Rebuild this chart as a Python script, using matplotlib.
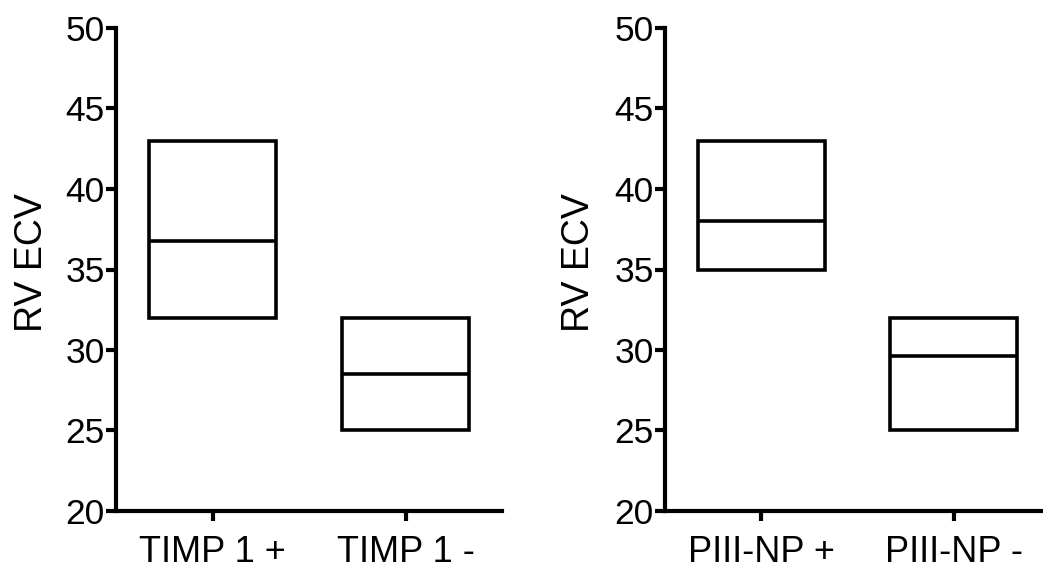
import matplotlib
matplotlib.use("Agg")
import matplotlib.pyplot as plt

plt.rcParams['font.family'] = ['Liberation Sans', 'DejaVu Sans']

# Data (floating bars: min to max with median line)
groups_left = ["TIMP 1 +", "TIMP 1 -"]
low_left = [32.0, 25.0]
high_left = [43.0, 32.0]
median_left = [36.8, 28.5]

groups_right = ["PIII-NP +", "PIII-NP -"]
low_right = [35.0, 25.0]
high_right = [43.0, 32.0]
median_right = [38.0, 29.6]

y_ticks = [20, 25, 30, 35, 40, 45, 50]
y_label = "RV ECV"

fig = plt.figure(figsize=(10.43, 5.77), dpi=100)
ax1 = fig.add_axes([116/1043, 66/577, 386/1043, 483/577])
ax2 = fig.add_axes([665/1043, 66/577, 385/1043, 483/577])

BW = 0.66

def draw(ax, groups, low, high, med, labx):
    x = list(range(len(groups)))
    heights = [h - l for h, l in zip(high, low)]
    ax.bar(x, heights, bottom=low, width=BW, fill=False, edgecolor='black',
           linewidth=2.6, joinstyle='miter')
    for xi, m in zip(x, med):
        ax.hlines(m, xi - BW/2, xi + BW/2, colors='black', linewidth=2.6)
    ax.set_xlim(-0.5, 1.5)
    ax.set_ylim(20, 50)
    ax.set_yticks(y_ticks)
    ax.set_xticks(x)
    ax.set_xticklabels(groups)
    for s in ['top', 'right']:
        ax.spines[s].set_visible(False)
    for s in ['left', 'bottom']:
        ax.spines[s].set_linewidth(3)
    ax.tick_params(axis='y', length=7, width=3, labelsize=25.5, pad=1)
    ax.tick_params(axis='x', length=7, width=3, labelsize=26, pad=10)
    ax.set_ylabel(y_label, fontsize=27)
    ax.yaxis.set_label_coords(labx, 0.514)

draw(ax1, groups_left, low_left, high_left, median_left, -0.172)
draw(ax2, groups_right, low_right, high_right, median_right, -0.176)

fig.savefig("out.png", dpi=100)
